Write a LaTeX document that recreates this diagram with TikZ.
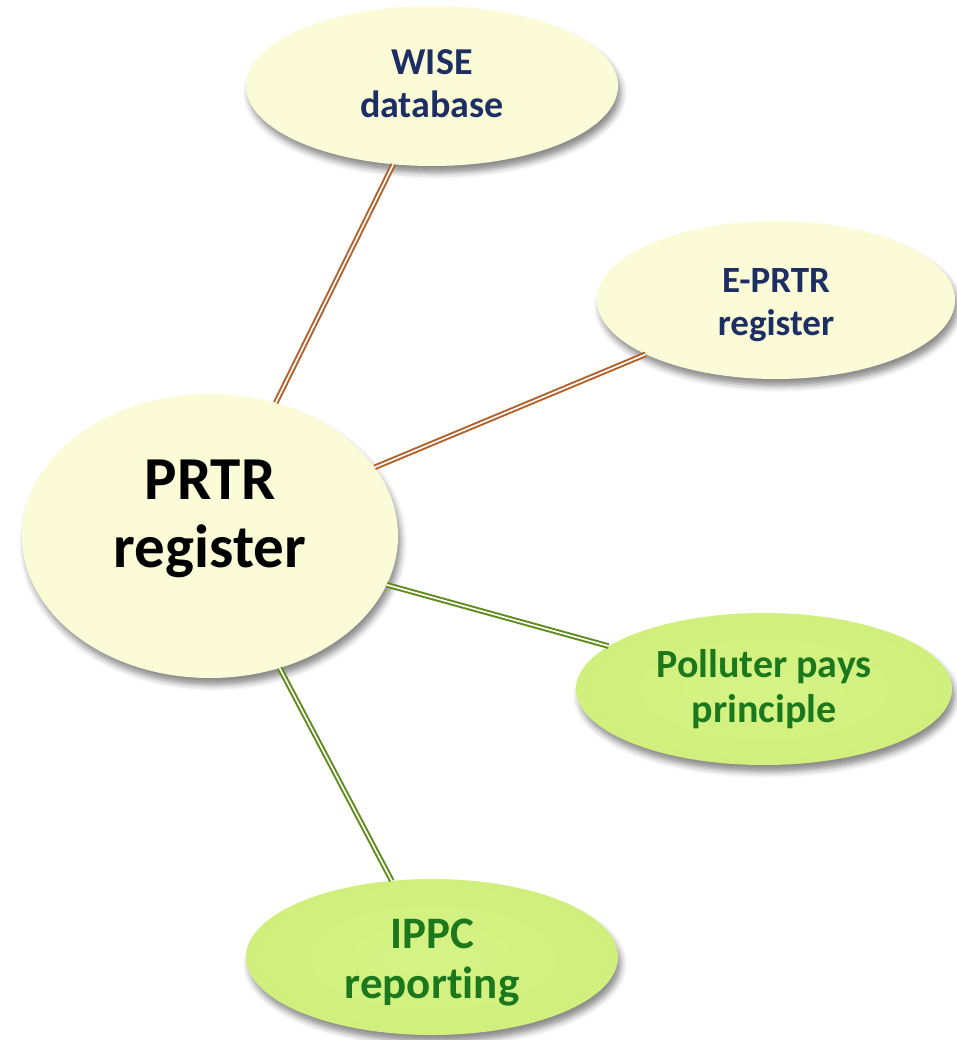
\documentclass[tikz,border=0pt]{standalone}
\usepackage{fontspec}
\setmainfont[Ligatures=NoCommon]{Carlito}
\usetikzlibrary{shapes.geometric,shadows.blur}
\definecolor{creamC}{RGB}{251,251,216}
\definecolor{creamM}{RGB}{238,238,186}
\definecolor{creamR}{RGB}{180,180,124}
\definecolor{greenC}{RGB}{214,243,134}
\definecolor{greenM}{RGB}{188,226,88}
\definecolor{greenR}{RGB}{126,166,38}
\definecolor{navytext}{RGB}{28,46,100}
\definecolor{greentext}{RGB}{28,120,28}
\definecolor{brownline}{RGB}{178,98,44}
\definecolor{greenline}{RGB}{96,140,30}
\pgfdeclareradialshading{creamshade}{\pgfpoint{0bp}{0bp}}{color(0bp)=(creamC); color(30bp)=(creamC); color(44bp)=(creamM); color(48.5bp)=(creamM!75!creamR); color(50bp)=(creamR)}
\pgfdeclareradialshading{greenshade}{\pgfpoint{0bp}{0bp}}{color(0bp)=(greenC); color(28bp)=(greenC!75!greenM); color(44bp)=(greenM); color(48.5bp)=(greenM!70!greenR); color(50bp)=(greenR)}
\tikzset{
  bubble/.style={ellipse, inner sep=0pt, align=center,
    blur shadow={shadow xshift=3pt, shadow yshift=-7pt, shadow blur radius=6pt, shadow opacity=45}},
  creambubble/.style={bubble, shading=creamshade, text=navytext},
  greenbubble/.style={bubble, shading=greenshade, text=greentext},
  brownlink/.style={draw=brownline, line width=2pt, double=white, double distance=1.6pt},
  greenlink/.style={draw=greenline, line width=2pt, double=white, double distance=1.6pt}
}
\begin{document}
\begin{tikzpicture}[x=1pt,y=-1pt]
\useasboundingbox (0,0) rectangle (956,1040);
\node[creambubble, minimum width=372pt, minimum height=160pt,
  font=\fontsize{38}{43}\selectfont\bfseries] (wise) at (432,86) {WISE\\database\rule[-4pt]{0pt}{4pt}};
\node[creambubble, minimum width=358pt, minimum height=158pt,
  font=\fontsize{37}{43}\selectfont\bfseries] (eprtr) at (776,300) {\rule{0pt}{34pt}E-PRTR\\register};
\node[creambubble, minimum width=376pt, minimum height=284pt, text=black,
  font=\fontsize{61}{68}\selectfont\bfseries] (prtr) at (210,536) {PRTR\\register\rule[-44pt]{0pt}{44pt}};
\node[greenbubble, minimum width=376pt, minimum height=152pt,
  font=\fontsize{40}{45}\selectfont\bfseries] (pollut) at (764,689) {Polluter pays\\principle};
\node[greenbubble, minimum width=372pt, minimum height=156pt,
  font=\fontsize{45}{50}\selectfont\bfseries] (ippc) at (432,957) {\rule{0pt}{40pt}IPPC\\reporting};
\draw[brownlink] (prtr) -- (wise);
\draw[brownlink] (prtr) -- (eprtr);
\draw[greenlink] (prtr) -- (pollut);
\draw[greenlink] (prtr) -- (ippc);
\end{tikzpicture}
\end{document}
